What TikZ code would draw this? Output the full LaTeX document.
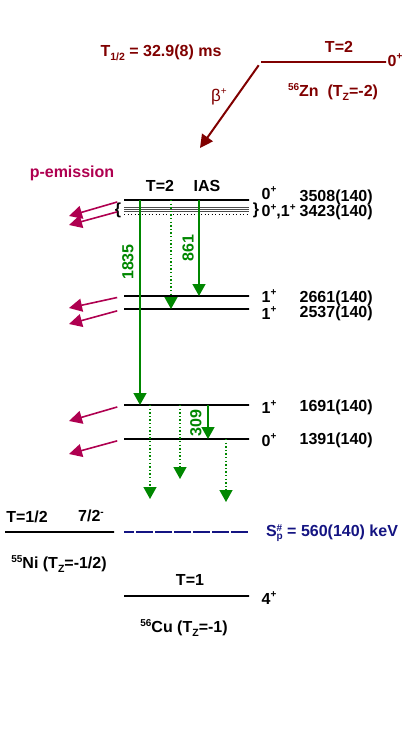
\documentclass[tikz,border=0pt]{standalone}
\usepackage{fontspec}
\setmainfont{Liberation Sans}
\usetikzlibrary{arrows.meta}

\definecolor{znred}{RGB}{128,0,0}
\definecolor{pcol}{RGB}{175,0,80}
\definecolor{gcol}{RGB}{0,135,0}
\definecolor{spblue}{RGB}{20,20,130}

\newcommand{\up}[1]{\raisebox{0.75ex}{\fontsize{10}{10}\selectfont #1}}
\newcommand{\dn}[1]{\raisebox{-0.45ex}{\fontsize{10.5}{10}\selectfont #1}}
\newcommand{\updn}[2]{\raisebox{-0.35ex}{\fontsize{10}{9}\selectfont\shortstack[l]{#1\\#2}}}

\begin{document}
\begin{tikzpicture}[
x=1pt, y=-1pt,
every node/.style={
font=\fontsize{16}{18}\selectfont\bfseries,
inner sep=0.5pt
},
level/.style={
draw,
line width=1.5pt,
inner sep=0pt,
outer sep=0pt,
minimum width=125pt,
minimum height=0pt
},
thinlvl/.style={draw=black!70, line width=0.8pt},
gam/.style={draw=gcol, line width=1.4pt, -{Triangle[length=12pt,width=13pt]}},
gamd/.style={gam, dash pattern=on 1.4pt off 2.2pt},
pem/.style={draw=pcol, line width=1.6pt, -{Triangle[length=13pt,width=13pt]}, shorten <=7pt},
spin/.style={anchor=west},
energy/.style={anchor=west}
]
\useasboundingbox (0,0) rectangle (415,745);

% 56Zn
\node[level, draw=znred, line width=2.6pt] (Zn) at (323.5,62) {};
\node[znred] (ZnT) at (339,47) {T=2};
\node[znred, anchor=west] (ZnJ) at (387,60) {0\up{+}};
\node[znred] (ZnName) at (333,92) {\up{56}Zn\ \ (T\dn{Z}=-2)};
\node[znred] (half) at (161,53) {T\dn{1/2} = 32.9(8) ms};
\coordinate (bend) at (200,148);
\draw[znred, line width=2pt, -{Triangle[length=13pt,width=13pt]}, shorten <=4pt] (Zn.west) -- (bend);
\node[znred, font=\fontsize{17}{18}\selectfont] (beta) at (219,97) {β\up{+}};

% 56Cu levels
\node[pcol] (pem) at (72,173) {p-emission};
\node (T2) at (160,186) {T=2};
\node (IAS) at (207,186) {IAS};

\node[level, line width=2pt] (L3508) at (186.5,200) {};
\node[level, draw=none] (L3423) at (186.5,209) {};
\draw[thinlvl] ([yshift=2pt]L3423.west) -- ([yshift=2pt]L3423.east);
\draw[thinlvl] (L3423.west) -- (L3423.east);
\draw[thinlvl] ([yshift=-2pt]L3423.west) -- ([yshift=-2pt]L3423.east);
\draw[black, line width=1pt, dash pattern=on 1pt off 2.5pt] ([yshift=-5pt]L3423.west) -- ([yshift=-5pt]L3423.east);
\node (bl) at (118,210) {\{};
\node (br) at (256,210) {\}};

\node[level] (L2661) at (186.5,296) {};
\node[level] (L2537) at (186.5,309) {};
\node[level] (L1691) at (186.5,405) {};
\node[level] (L1391) at (186.5,439) {};

\node[spin] (J3508) at (261,193) {0\up{+}};
\node[spin] (J3423) at (261,212) {0\up{+},1\up{+}};
\node[spin] (J2661) at (261,296) {1\up{+}};
\node[spin] (J2537) at (261,313) {1\up{+}};
\node[spin] (J1691) at (261,407) {1\up{+}};
\node[spin] (J1391) at (261,440) {0\up{+}};

\node[energy] (E3508) at (299,197) {3508(140)};
\node[energy] (E3423) at (299,212) {3423(140)};
\node[energy] (E2661) at (299,298) {2661(140)};
\node[energy] (E2537) at (299,313) {2537(140)};
\node[energy] (E1691) at (299,407) {1691(140)};
\node[energy] (E1391) at (299,440) {1391(140)};

% proton emission
\coordinate (p1) at (69,216);
\coordinate (p2) at (69,225);
\coordinate (p3) at (69,308);
\coordinate (p4) at (69,324);
\coordinate (p5) at (69,421);
\coordinate (p6) at (69,454);
\draw[pem] (L3508.west) -- (p1);
\draw[pem] ([yshift=-1pt]L3423.west) -- (p2);
\draw[pem] (L2661.west) -- (p3);
\draw[pem] (L2537.west) -- (p4);
\draw[pem] (L1691.west) -- (p5);
\draw[pem] (L1391.west) -- (p6);

% gamma transitions
\draw[gam] (140,0 |- L3508) -- (140,0 |- L1691);
\draw[gam] (199,0 |- L3508) -- (199,0 |- L2661);
\draw[gamd] (171,0 |- L3508) -- (171,0 |- L2537);
\draw[gam] (208,0 |- L1691) -- (208,0 |- L1391);
\node[gcol, rotate=90] (g1835) at (128,262) {1835};
\node[gcol, rotate=90] (g861) at (188,248) {861};
\node[gcol, rotate=90] (g309) at (196,423) {309};

\coordinate (d1) at (150,499);
\coordinate (d2) at (180,479);
\coordinate (d3) at (226,502);
\draw[gamd] (150,0 |- L1691) -- (d1);
\draw[gamd] (180,0 |- L1691) -- (d2);
\draw[gamd] (226,0 |- L1391) -- (d3);

% 55Ni + p
\node[level, line width=2.6pt, minimum width=109pt] (Ni) at (59.5,532) {};
\node (NiT) at (27,517) {T=1/2};
\node (NiJ) at (91,516) {7/2\up{-}};
\node (NiName) at (59,564) {\up{55}Ni (T\dn{Z}=-1/2)};
\node[level, draw=spblue, line width=1.2pt, dash pattern=on 10pt off 9pt] (Sp) at (186.5,532) {};
\node[spblue] (SpLab) at (332,533) {S\updn{\#}{p} = 560(140) keV};

% 56Cu ground state
\node[level, line width=2.6pt] (Cu) at (186.5,596) {};
\node (CuT) at (190,580) {T=1};
\node[spin] (CuJ) at (261,598) {4\up{+}};
\node (CuName) at (184,628) {\up{56}Cu (T\dn{Z}=-1)};

\end{tikzpicture}
\end{document}
